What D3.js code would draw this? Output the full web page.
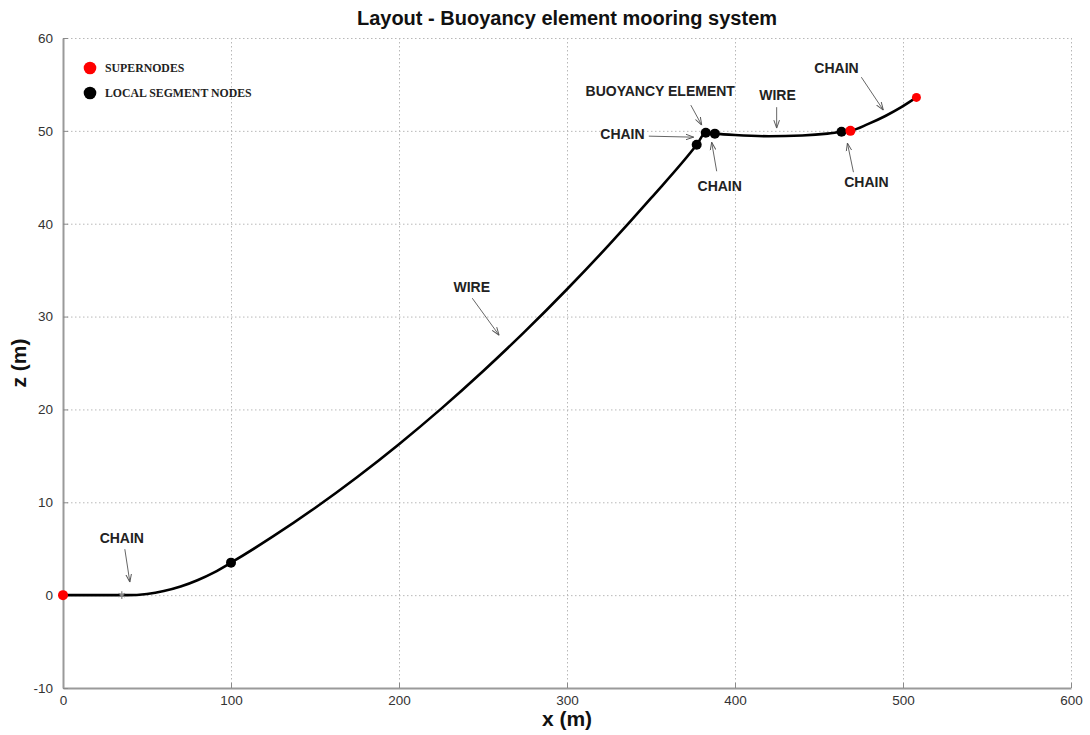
<!DOCTYPE html>
<html>
<head>
<meta charset="utf-8">
<script src="https://cdn.jsdelivr.net/npm/d3@7"></script>
<style>
  html, body { margin: 0; padding: 0; background: #fff; }
  svg { display: block; }
</style>
</head>
<body>
<svg id="chart" width="1090" height="735"></svg>
<script>
// ---------------- DATA ----------------
const xTicks = [0, 100, 200, 300, 400, 500, 600];
const zTicks = [-10, 0, 10, 20, 30, 40, 50, 60];

// mooring line layout (x, z) in metres
const lineX = [0, 20, 38, 50, 60, 70, 80, 90, 100, 125, 150, 175, 200, 225, 250, 275, 300, 325, 350, 377.2,
               382.6, 388, 400, 420, 440, 455, 463.4, 468.7, 479.4, 489.5, 499, 508];
const lineZ = [0, 0, 0, 0.13, 0.44, 0.93, 1.61, 2.46, 3.5, 6.32, 9.39, 12.7, 16.26, 20.06, 24.11, 28.4, 32.94, 37.72, 42.75, 48.5,
               49.8, 49.7, 49.55, 49.42, 49.5, 49.7, 49.9, 50.0, 50.75, 51.6, 52.55, 53.6];

// supernodes (red)
const superX = [0, 468.7, 508];
const superZ = [0, 50.0, 53.6];

// local segment nodes (black)
const localX = [100, 377.2, 382.6, 388, 463.4];
const localZ = [3.5, 48.5, 49.8, 49.7, 49.9];

// grey marker on the bottom chain
const markX = [35];
const markZ = [0];

// annotations: label, label position, arrow start, arrow end (data units)
const annLabels = ["CHAIN", "WIRE", "BUOYANCY ELEMENT", "CHAIN", "CHAIN", "WIRE", "CHAIN", "CHAIN"];
const annLX  = [35.0, 243.3, 355.5, 333.0, 390.9, 425.3, 460.4, 478.2];
const annLZ  = [6.14, 33.17, 54.31, 49.65, 44.03, 53.85, 56.75, 44.48];
const annX1  = [36.8, 243.6, 373.7, 348.7, 389.1, 424.8, 475.2, 470.5];
const annZ1  = [4.95, 31.98, 52.77, 49.43, 45.65, 52.55, 55.78, 45.55];
const annX2  = [39.8, 259.6, 380.2, 375.4, 386.1, 424.8, 488.3, 466.9];
const annZ2  = [1.40, 27.99, 50.61, 49.32, 48.78, 50.29, 52.23, 48.68];

const legendLabels = ["SUPERNODES", "LOCAL SEGMENT NODES"];
const legendColors = ["#ff0000", "#000000"];

// ---------------- LAYOUT ----------------
const svg = d3.select("#chart");
const L = 63, R = 1071, T = 38, B = 688;

const x = d3.scaleLinear().domain([0, 600]).range([L, R]);
const y = d3.scaleLinear().domain([-10, 60]).range([B, T]);

// grid (incl. top and right borders, dotted)
const grid = svg.append("g").attr("stroke", "#b8b8b8").attr("stroke-width", 1)
  .attr("stroke-dasharray", "1.5,2.5");
grid.selectAll("line.gx").data(xTicks.filter(d => d > 0)).join("line")
  .attr("x1", d => x(d) + 0.5).attr("x2", d => x(d) + 0.5)
  .attr("y1", T).attr("y2", B);
grid.selectAll("line.gy").data(zTicks.filter(d => d > -10)).join("line")
  .attr("x1", L).attr("x2", R)
  .attr("y1", d => y(d) + 0.5).attr("y2", d => y(d) + 0.5);

// axes
const fontTick = "Liberation Sans, Arial, sans-serif";
const fmt = d => String(d);
const xAxis = d3.axisBottom(x).tickValues(xTicks).tickFormat(fmt).tickSizeInner(-5).tickSizeOuter(0).tickPadding(10);
const yAxis = d3.axisLeft(y).tickValues(zTicks).tickFormat(fmt).tickSizeInner(-5).tickSizeOuter(0).tickPadding(10);

const gx = svg.append("g").attr("transform", `translate(0,${B})`).call(xAxis);
const gy = svg.append("g").attr("transform", `translate(${L},0)`).call(yAxis);
[gx, gy].forEach(g => {
  g.select(".domain").attr("stroke", "#9a9a9a").attr("stroke-width", 2);
  g.selectAll(".tick line").attr("stroke", "#8a8a8a").attr("stroke-width", 1);
  g.selectAll(".tick text").attr("font-family", fontTick).attr("font-size", 13.5)
    .attr("fill", "#333");
});
gx.selectAll(".tick text").attr("dy", "0.5em");

// line
const pts = lineX.map((d, i) => [d, lineZ[i]]);
const lineGen = d3.line().x(d => x(d[0])).y(d => y(d[1])).curve(d3.curveMonotoneX);
svg.append("path").datum(pts)
  .attr("fill", "none").attr("stroke", "#000").attr("stroke-width", 2.6)
  .attr("stroke-linejoin", "round").attr("d", lineGen);

// grey asterisk marker
svg.selectAll("path.mark").data(markX.map((d, i) => [d, markZ[i]])).join("path")
  .attr("transform", d => `translate(${x(d[0])},${y(d[1])})`)
  .attr("d", d3.symbol(d3.symbolAsterisk, 40)())
  .attr("fill", "none").attr("stroke", "#888").attr("stroke-width", 1.2);

// nodes
svg.selectAll("circle.local").data(localX.map((d, i) => [d, localZ[i]])).join("circle")
  .attr("cx", d => x(d[0])).attr("cy", d => y(d[1])).attr("r", 5).attr("fill", "#000");
svg.selectAll("circle.super").data(superX.map((d, i) => [d, superZ[i]])).join("circle")
  .attr("cx", d => x(d[0])).attr("cy", d => y(d[1])).attr("r", (d, i) => i === 2 ? 4.5 : 5)
  .attr("fill", "#ff0000");

// arrow marker
const defs = svg.append("defs");
defs.append("marker").attr("id", "arr").attr("viewBox", "0 0 10 10")
  .attr("refX", 10).attr("refY", 5).attr("markerWidth", 8).attr("markerHeight", 8)
  .attr("markerUnits", "userSpaceOnUse").attr("orient", "auto")
  .append("path").attr("d", "M0,1.5 L10,5 L0,8.5").attr("fill", "none")
  .attr("stroke", "#555").attr("stroke-width", 1.2);

// annotations
const ann = annLabels.map((t, i) => ({ t, lx: annLX[i], lz: annLZ[i], x1: annX1[i], z1: annZ1[i], x2: annX2[i], z2: annZ2[i] }));
svg.selectAll("line.arrow").data(ann).join("line")
  .attr("x1", d => x(d.x1)).attr("y1", d => y(d.z1))
  .attr("x2", d => x(d.x2)).attr("y2", d => y(d.z2))
  .attr("stroke", "#666").attr("stroke-width", 1).attr("marker-end", "url(#arr)");
svg.selectAll("text.ann").data(ann).join("text")
  .attr("x", d => x(d.lx)).attr("y", d => y(d.lz))
  .attr("text-anchor", "middle").attr("dominant-baseline", "central")
  .attr("font-family", "Liberation Sans, Arial, sans-serif").attr("font-weight", "bold")
  .attr("font-size", 14).attr("fill", "#222").text(d => d.t);

// legend
const leg = svg.append("g");
legendLabels.forEach((t, i) => {
  const cy = 68 + i * 25;
  leg.append("circle").attr("cx", 90).attr("cy", cy).attr("r", 6.3).attr("fill", legendColors[i]);
  leg.append("text").attr("x", 105).attr("y", cy).attr("dominant-baseline", "central")
    .attr("font-family", "Liberation Serif, Times New Roman, serif").attr("font-weight", "bold")
    .attr("font-size", 11.8).attr("fill", "#222").text(t);
});

// titles
svg.append("text").attr("x", (L + R) / 2).attr("y", 25).attr("text-anchor", "middle")
  .attr("font-family", "Liberation Sans, Arial, sans-serif").attr("font-weight", "bold")
  .attr("font-size", 20).attr("fill", "#111").text("Layout - Buoyancy element mooring system");
svg.append("text").attr("x", (L + R) / 2).attr("y", 726).attr("text-anchor", "middle")
  .attr("font-family", "Liberation Sans, Arial, sans-serif").attr("font-weight", "bold")
  .attr("font-size", 21).attr("fill", "#111").text("x (m)");
svg.append("text").attr("transform", `translate(26,${(T + B) / 2}) rotate(-90)`).attr("text-anchor", "middle")
  .attr("font-family", "Liberation Sans, Arial, sans-serif").attr("font-weight", "bold")
  .attr("font-size", 21).attr("fill", "#111").text("z (m)");
</script>
</body>
</html>
